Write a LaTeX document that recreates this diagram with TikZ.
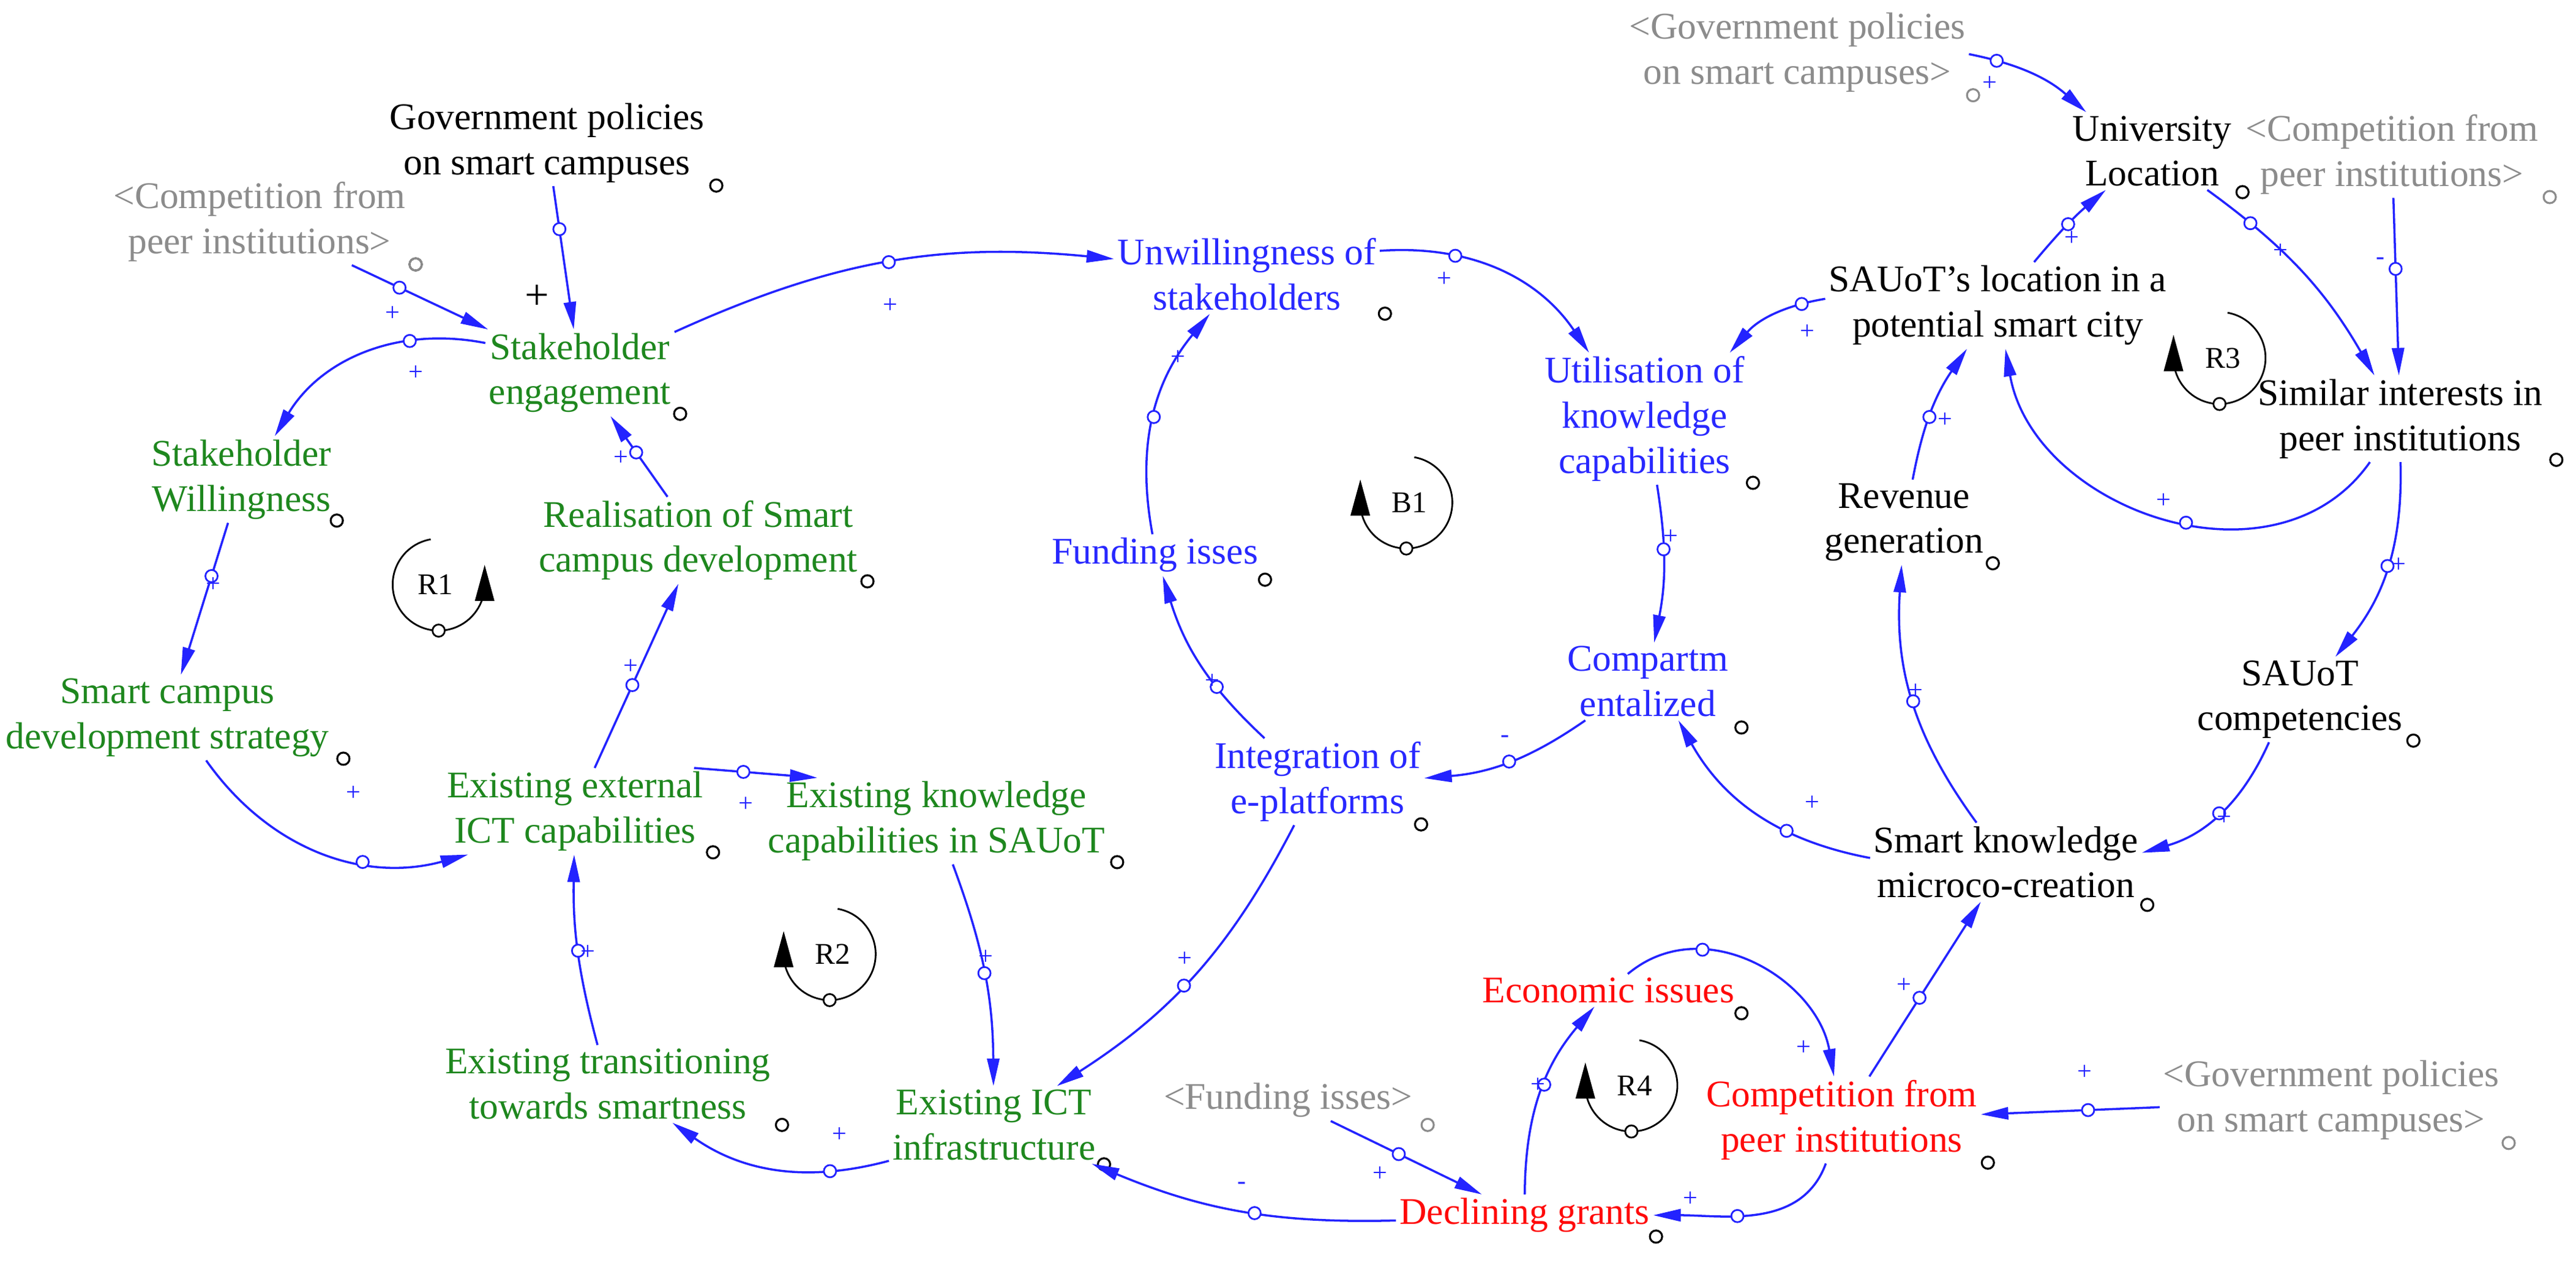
\documentclass[tikz,border=0pt]{standalone}
\usepackage{fontspec}
\setmainfont{Liberation Serif}
\usetikzlibrary{arrows.meta}
\definecolor{lb}{RGB}{35,35,255}
\definecolor{tg}{RGB}{30,135,30}
\definecolor{tb}{RGB}{40,40,255}
\definecolor{tr}{RGB}{255,10,10}
\definecolor{tgr}{RGB}{140,140,140}
\tikzset{
  x=0.02684cm, y=0.02684cm,
  v/.style={align=center, inner sep=1.5pt, font=\fontsize{17.5}{21}\selectfont},
  gn/.style={v, text=tg}, bn/.style={v, text=tb}, rn/.style={v, text=tr},
  kn/.style={v, text=black}, gy/.style={v, text=tgr},
  lk/.style={draw=lb, line width=1pt, -{Triangle[length=0.45cm,width=0.2cm]}},
  hole/.style={circle, draw=lb, fill=white, line width=0.8pt, inner sep=0pt, minimum size=0.2cm},
  dot/.style={circle, draw=black, line width=0.9pt, inner sep=0pt, minimum size=0.2cm},
  sg/.style={text=lb, inner sep=0pt, font=\fontsize{12}{12}\selectfont},
  lp/.style={black, line width=0.8pt},
  lh/.style={circle, draw=black, fill=white, line width=0.8pt, inner sep=0pt, minimum size=0.2cm},
  ll/.style={inner sep=0pt, font=\fontsize{14}{14}\selectfont}
}
\begin{document}
\begin{tikzpicture}
\useasboundingbox (0,0) rectangle (1568,-769);
% variables
\node[kn] (gov) at (333,-87) {Government policies\\on smart campuses};
\node[gy] (comp1) at (158,-135) {<Competition from\\peer institutions>};
\node[gn] (se) at (353,-227) {Stakeholder\\engagement};
\node[gn] (sw) at (147,-292) {Stakeholder\\Willingness};
\node[gn] (real) at (425,-329) {Realisation of Smart\\campus development};
\node[gn] (scds) at (102,-437) {Smart campus\\development strategy};
\node[gn] (eext) at (350,-494) {Existing external\\ICT capabilities};
\node[gn] (eknow) at (570,-500) {Existing knowledge\\capabilities in SAUoT};
\node[gn] (etrans) at (370,-660) {Existing transitioning\\towards smartness};
\node[gn] (eict) at (605,-685) {Existing ICT\\infrastructure};
\node[bn] (unw) at (759,-167) {Unwillingness of\\stakeholders};
\node[bn] (fund) at (703,-338) {Funding isses};
\node[bn] (integ) at (802,-476) {Integration of\\e-platforms};
\node[bn] (util) at (1001,-255) {Utilisation of\\knowledge\\capabilities};
\node[bn] (compart) at (1003,-415) {Compartm\\entalized};
\node[kn] (sauotloc) at (1216,-186) {SAUoT's location in a\\potential smart city};
\node[kn] (univloc) at (1310,-92) {University\\Location};
\node[gy] (gov2) at (1094,-32) {<Government policies\\on smart campuses>};
\node[gy] (comp2) at (1456,-94) {<Competition from\\peer institutions>};
\node[kn] (sim) at (1461,-255) {Similar interests in\\peer institutions};
\node[kn] (rev) at (1159,-318) {Revenue\\generation};
\node[kn] (sauotcomp) at (1400,-426) {SAUoT\\competencies};
\node[kn] (smk) at (1221,-525) {Smart knowledge\\microco-creation};
\node[rn] (econ) at (979,-603) {Economic issues};
\node[rn] (compet) at (1121,-682) {Competition from\\peer institutions};
\node[gy] (fund2) at (784,-670) {<Funding isses>};
\node[rn] (decl) at (928,-740) {Declining grants};
\node[gy] (gov3) at (1419,-670) {<Government policies\\on smart campuses>};
% small black circles
\foreach \n/\p in {d1/{(436,-113)},d2/{(253,-161)},d3/{(414,-252)},d4/{(205,-317)},d5/{(528,-354)},
  d6/{(770,-353)},d7/{(843,-191)},d8/{(209,-462)},d9/{(434,-519)},d10/{(680,-525)},d11/{(476,-685)},
  d12/{(672,-709)},d13/{(865,-502)},d14/{(1067,-294)},d15/{(1060,-443)},d17/{(1365,-117)},
  d19/{(1556,-280)},d20/{(1213,-343)},d21/{(1469,-451)},d22/{(1307,-551)},d23/{(1060,-617)},
  d24/{(1210,-708)},d26/{(1008,-753)}}
  \node[dot] (\n) at \p {};
\foreach \n/\p in {d16/{(1201,-58)},d18/{(1552,-120)},d25/{(869,-685)},d27/{(1527,-696)},d28/{(253,-161)}}
  \node[dot, draw=tgr] (\n) at \p {};
% links
\draw[lk] (gov) -- node[hole,pos=.3]{} (se);
\draw[lk] (comp1) -- node[hole,pos=.35]{} (se);
\draw[lk] (se) to[bend right=35] node[hole,pos=.3]{} (sw);
\draw[lk] (sw) -- node[hole,pos=.35]{} (scds);
\draw[lk] (scds) to[bend right=35] node[hole,pos=.65]{} (eext);
\draw[lk] (eext) -- node[hole,pos=.45]{} (real);
\draw[lk] (real) -- node[hole,pos=.55]{} (se);
\draw[lk] (eext.20) -- node[hole,pos=.4]{} (eknow.160);
\draw[lk] (eknow) to[bend left=10] node[hole,pos=.5]{} (eict);
\draw[lk] (etrans) to[bend left=8] node[hole,pos=.5]{} (eext);
\draw[lk] (eict) to[bend left=25] node[hole,pos=.25]{} (etrans);
\draw[lk] (integ) to[bend left=15] node[hole,pos=.55]{} (eict);
\draw[lk] (integ) to[bend left=15] node[hole,pos=.35]{} (fund);
\draw[lk] (fund) to[bend left=25] node[hole,pos=.5]{} (unw);
\draw[lk] (se) to[bend left=15] node[hole,pos=.5]{} (unw);
\draw[lk] (unw) to[bend left=30] node[hole,pos=.3]{} (util);
\draw[lk] (sauotloc) to[bend right=20] node[hole,pos=.2]{} (util);
\draw[lk] (util) to[bend left=10] node[hole,pos=.4]{} (compart);
\draw[lk] (compart) to[bend left=15] node[hole,pos=.5]{} (integ);
\draw[lk] (smk) to[bend left=25] node[hole,pos=.35]{} (compart);
\draw[lk] (smk) to[bend left=20] node[hole,pos=.5]{} (rev);
\draw[lk] (rev) to[bend left=12] node[hole,pos=.45]{} (sauotloc);
\draw[lk] (sauotloc) to[bend left=5] node[hole,pos=.5]{} (univloc);
\draw[lk] (gov2) to[bend left=15] node[hole,pos=.2]{} (univloc);
\draw[lk] (univloc) to[bend left=12] node[hole,pos=.2]{} (sim);
\draw[lk] (comp2) -- node[hole,pos=.4]{} (sim);
\draw[lk] (sim) to[out=235,in=-80,looseness=1.1] node[hole,pos=.45]{} (sauotloc);
\draw[lk] (sim) to[bend left=20] node[hole,pos=.5]{} (sauotcomp);
\draw[lk] (sauotcomp) to[bend left=25] node[hole,pos=.5]{} (smk);
\draw[lk] (compet) -- node[hole,pos=.45]{} (smk);
\draw[lk] (econ) to[out=40,in=100,looseness=1.1] node[hole,pos=.3]{} (compet);
\draw[lk] (decl) to[bend left=20] node[hole,pos=.55]{} (econ);
\draw[lk] (compet) to[out=-110,in=0] node[hole,pos=.6]{} (decl);
\draw[lk] (fund2) -- node[hole,pos=.45]{} (decl);
\draw[lk] (decl) to[bend left=12] node[hole,pos=.45]{} (eict);
\draw[lk] (gov3) -- node[hole,pos=.4]{} (compet);
% signs
\node[inner sep=0pt, font=\fontsize{20}{20}\selectfont] (s0) at (327,-181) {+};
\foreach \p [count=\i] in {(239,-191),(253,-227),(130,-356),(215,-483),(384,-406),(378,-279),
  (454,-490),(600,-583),(358,-580),(511,-691),(721,-584),(738,-415),(717,-218),(542,-186),
  (879,-170),(1100,-202),(1017,-327),(1103,-489),(1166,-421),(1184,-256),(1261,-145),
  (1211,-51),(1388,-153),(1317,-305),(1460,-344),(1354,-498),(1159,-600),(1098,-638),
  (936,-661),(1029,-730),(840,-715),(1269,-653)}
  \node[sg] (sp\i) at \p {+};
\foreach \p [count=\i] in {(756,-722),(916,-450),(1449,-159)}
  \node[sg] (sm\i) at \p {-};
% loop markers
\foreach \n/\cx/\cy in {B1/856/-306,R2/505/-581,R3/1351/-218,R4/993/-661}{
  \draw[lp] (\cx,\cy) ++(80:28) arc[start angle=80,end angle=-172,radius=28];
  \fill (\cx-34,\cy-8) -- (\cx-22,\cy-8) -- (\cx-28,\cy+14) -- cycle;
  \node[lh] (h\n) at (\cx,\cy-28) {};
  \node[ll] (l\n) at (\cx+2,\cy) {\n};
}
\draw[lp] (267,-356) ++(100:28) arc[start angle=100,end angle=352,radius=28];
\fill (289,-366) -- (301,-366) -- (295,-344) -- cycle;
\node[lh] (hR1) at (267,-384) {};
\node[ll] (lR1) at (265,-356) {R1};
\end{tikzpicture}
\end{document}
